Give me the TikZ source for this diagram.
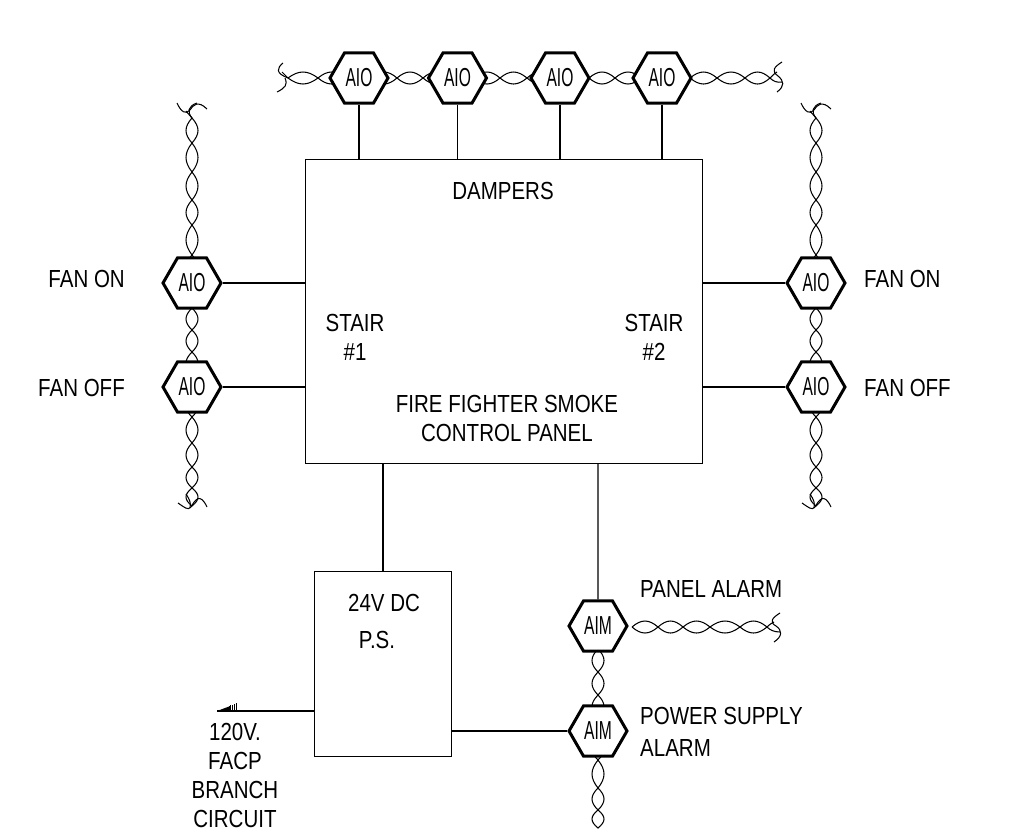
\documentclass[tikz,border=0pt]{standalone}
\usepackage{fontspec}
\usetikzlibrary{shapes.geometric}
\newfontfamily\lblfont[FakeStretch=0.83]{Liberation Sans}
\newfontfamily\hexfont[FakeStretch=0.6]{Liberation Sans}
\tikzset{
  wire/.style={line width=1.05pt,black},
  conn/.style={line width=1.1pt,black},
  boxshape/.style={draw,line width=1.2pt,black,fill=none,inner sep=0pt,anchor=north west},
  hexnode/.style={regular polygon,regular polygon sides=6,draw,line width=3pt,fill=white,minimum size=58pt,inner sep=0pt,font=\hexfont\fontsize{26}{26}\selectfont},
  lbl/.style={inner sep=0pt,align=center,font=\lblfont\fontsize{24.7}{29}\selectfont},
  lbll/.style={lbl,align=left,anchor=west}
}
\newcommand\twistH[3]{%
  \foreach \bb [remember=\bb as \aa (initially #2)] in {#3}{%
    \pgfmathsetmacro\LL{(\bb-\aa)*0.36}%
    \draw[wire] (\aa,#1) .. controls (\aa+\LL,#1-8) and (\bb-\LL,#1-8) .. (\bb,#1)
       .. controls (\bb-\LL,#1+8) and (\aa+\LL,#1+8) .. (\aa,#1);
  }}
\newcommand\twistV[3]{%
  \foreach \bb [remember=\bb as \aa (initially #2)] in {#3}{%
    \pgfmathsetmacro\LL{(\bb-\aa)*0.36}%
    \draw[wire] (#1,\aa) .. controls (#1-8,\aa+\LL) and (#1-8,\bb-\LL) .. (#1,\bb)
       .. controls (#1+8,\bb-\LL) and (#1+8,\aa+\LL) .. (#1,\aa);
  }}
\begin{document}
\begin{tikzpicture}[x=1pt,y=-1pt]
\path[use as bounding box,fill=white] (0,0) rectangle (1014,831);
% twisted pairs
\twistH{78}{288}{318,345}
\twistH{78}{371}{397,423,449}
\twistH{78}{474}{500,527,553}
\twistH{78}{589}{615,641}
\twistH{78}{690}{717,745,770}
\twistH{627}{632}{658,683,710,740,767}
\foreach \cx in {192,816}{
  \twistV{\cx}{118}{143,172,200,225,255,280}
  \twistV{\cx}{308}{330,352,374}
  \twistV{\cx}{395}{417,443,467,488,506}
}
\twistV{598}{649}{672,695,718}
\twistV{598}{738}{760,788,810,828}
% wire ends
\draw[wire] (283,63) .. controls (277,68) and (275,73) .. (288,78);
\draw[wire] (277,92) .. controls (285,88) and (288,85) .. (285,78);
\draw[wire] (288,78) -- (282,72);
\draw[wire] (782,62) .. controls (774,67) and (771,71) .. (778,76) .. controls (784,81) and (785,86) .. (777,92);
\draw[wire] (770,78) .. controls (773,75) and (775,73) .. (777,72);
\draw[wire] (770,78) .. controls (773,81) and (777,83) .. (782,82);
\draw[wire] (780,613) .. controls (772,618) and (769,622) .. (776,626) .. controls (782,630) and (783,636) .. (774,642);
\draw[wire] (767,627) .. controls (770,624) and (772,623) .. (774,622);
\draw[wire] (767,627) .. controls (770,630) and (774,632) .. (780,632);
\foreach \dx in {0,624}{
  \draw[wire,shift={(\dx,0)}] (177,103) .. controls (181,112) and (186,115) .. (190,110) .. controls (193,105) and (198,100) .. (207,109);
  \draw[wire,shift={(\dx,0)}] (197,103) .. controls (188,106) and (187,112) .. (192,118);
  \draw[wire,shift={(\dx,0)}] (186,111) -- (192,118);
  \draw[wire,shift={(\dx,0)}] (178,503) .. controls (184,507) and (188,511) .. (191,507) .. controls (195,500) and (200,492) .. (207,507);
  \draw[wire,shift={(\dx,0)}] (186,494) .. controls (190,500) and (191,503) .. (190,508);
}
% boxes
\node[boxshape,minimum width=397pt,minimum height=304pt] (panel) at (305,159) {};
\node[boxshape,minimum width=137pt,minimum height=185pt] (psu) at (314,571) {};
% hexagons
\node[hexnode] (t1) at (359,78) {AIO};
\node[hexnode] (t2) at (457.5,78) {AIO};
\node[hexnode] (t3) at (560,78) {AIO};
\node[hexnode] (t4) at (662,78) {AIO};
\node[hexnode] (l1) at (192,283) {AIO};
\node[hexnode] (l2) at (192,387) {AIO};
\node[hexnode] (r1) at (816,283) {AIO};
\node[hexnode] (r2) at (816,387) {AIO};
\node[hexnode] (m1) at (598,626) {AIM};
\node[hexnode] (m2) at (598,731) {AIM};
% connectors
\foreach \h in {t1,t2,t3,t4}{
  \draw[conn] (\h.south) -- (\h.south |- panel.north);
}
\foreach \h in {l1,l2}{
  \draw[conn] (\h.east) -- (\h.east -| panel.west);
}
\foreach \h in {r1,r2}{
  \draw[conn] (\h.west) -- (\h.west -| panel.east);
}
\coordinate (pa) at (383,463);
\draw[conn] (pa) -- (pa |- psu.north);
\coordinate (pb) at (598,463);
\draw[conn] (pb) -- (m1.north);
\draw[conn] (m2.west) -- (m2.west -| psu.east);
\coordinate (tip) at (217,711);
\draw[conn] (tip) -- (tip -| psu.west);
\fill (217,711) -- (229,706.5) -- (229,711) -- cycle;
\foreach \q in {12,13.8,...,20.5}{
  \draw[line width=1pt] (217+\q,711) -- (217+\q,711-0.4*\q);
}
% labels
\node[lbl] (d) at (503,191) {DAMPERS};
\node[lbl] (s1) at (355,337) {STAIR\\\#1};
\node[lbl] (s2) at (654,337) {STAIR\\\#2};
\node[lbl] (f) at (507,418) {FIRE FIGHTER SMOKE\\CONTROL PANEL};
\node[lbl,anchor=east] (a) at (125,279) {FAN ON};
\node[lbl,anchor=east] (b) at (125,388) {FAN OFF};
\node[lbll] (c) at (864,279) {FAN ON};
\node[lbll] (e) at (864,388) {FAN OFF};
\node[lbl] (g) at (384,603) {24V DC};
\node[lbl] (h) at (377,640) {P.S.};
\node[lbll] (i) at (640,589) {PANEL ALARM};
\node[lbll] (j) at (640,716) {POWER SUPPLY};
\node[lbll] (k) at (640,748) {ALARM};
\node[lbl] (n) at (235,775) {120V.\\FACP\\BRANCH\\CIRCUIT};
\end{tikzpicture}
\end{document}
